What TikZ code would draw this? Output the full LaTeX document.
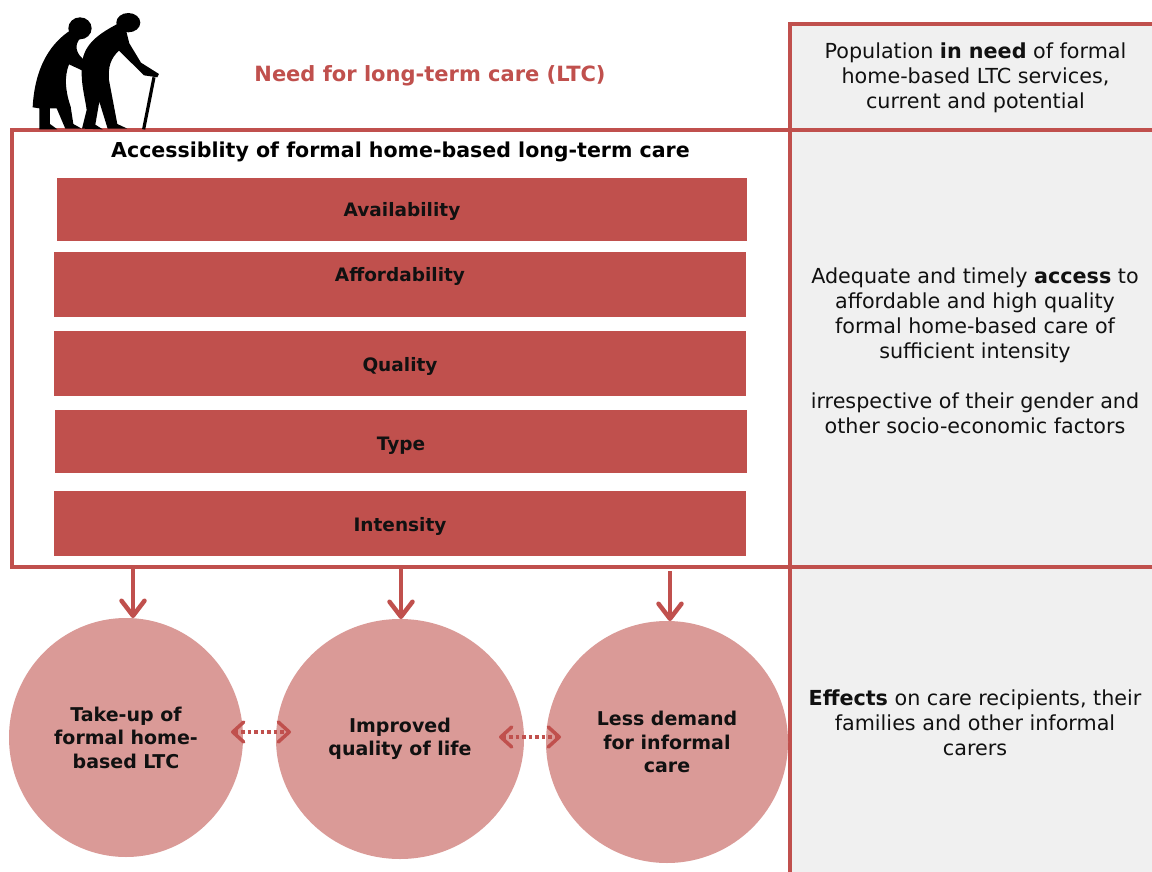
\documentclass[tikz,border=0pt]{standalone}
\usepackage{fontspec}
\setmainfont{DejaVu Sans}
\usetikzlibrary{arrows.meta,shapes.geometric}
\definecolor{lred}{HTML}{C0504D}
\definecolor{lpink}{HTML}{DA9A97}
\definecolor{lgray}{HTML}{F0F0F0}
\definecolor{ink}{HTML}{111111}
\tikzset{
 x=1pt,y=-1pt,
 rule/.style={draw=lred,line width=4pt},
 barbox/.style={fill=lred,draw=none,anchor=north west,inner sep=0pt,outer sep=0pt},
 bartext/.style={font=\fontsize{18.5}{22}\selectfont\bfseries,text=ink,inner sep=0pt},
 bubble/.style={fill=lpink,draw=none,ellipse,inner sep=0pt,outer sep=0pt,font=\fontsize{19}{23.5}\selectfont\bfseries,text=ink,align=center},
 sidetext/.style={font=\fontsize{20.7}{25}\selectfont,text=ink,align=center,inner sep=0pt},
 downarrow/.style={draw=lred,line width=4.5pt,-{Straight Barb[length=15pt,width=23pt,line width=4.5pt,round]}},
 linkarrow/.style={draw=lred,line width=3.5pt,dash pattern=on 3.5pt off 3pt,{Straight Barb[length=11pt,width=20pt,line width=3.5pt,round]}-{Straight Barb[length=11pt,width=20pt,line width=3.5pt,round]}},
}
\newcommand{\barnode}[6]{\node[barbox,minimum width=#3pt,minimum height=#4pt] (#5) at (#1,#2) {};\node[bartext] (#5t) at #6;}
\begin{document}
\begin{tikzpicture}
\useasboundingbox (0,0) rectangle (1152,872);
\fill[white] (0,0) rectangle (1152,872);
% grey side panel
\node[fill=lgray,draw=none,anchor=north west,minimum width=362pt,minimum height=848pt,inner sep=0pt,outer sep=0pt] (panel) at (790,24) {};
% frame
\node[draw=lred,line width=4pt,anchor=north west,minimum width=778pt,minimum height=437pt,inner sep=0pt,outer sep=0pt] (frame) at (12,130) {};
\draw[rule] (frame.north east) -- (panel.north east |- frame.north east);
\draw[rule] (frame.south east) -- (panel.east |- frame.south east);
\draw[rule,line cap=rect] (panel.north west) -- (panel.north east);
\draw[rule] (panel.north west) -- (panel.south west);
% silhouette
\begin{scope}[x=0.3333pt,y=-0.3333pt]
 \fill[black] (240,85) ellipse [x radius=35,y radius=33];
 \fill[black] (385,68) ellipse [x radius=36,y radius=29];
 \fill[black] (210,92) .. controls (160,125) and (105,190) .. (98,322) -- (118,325) -- (118,388) -- (172,388) -- (150,372) -- (150,325) -- (170,325) -- (196,386) -- (245,386) -- (220,372) -- (212,320) .. controls (195,270) and (193,230) .. (207,193) -- (248,212) -- (256,182) .. controls (230,165) and (218,135) .. (244,112) -- cycle;
 \fill[black] (352,72) .. controls (300,100) and (252,130) .. (246,190) .. controls (241,250) and (255,290) .. (260,330) -- (246,386) -- (308,388) -- (286,374) -- (298,305) -- (323,386) -- (382,386) -- (352,372) -- (327,240) .. controls (324,200) and (332,175) .. (357,152) -- (432,226) -- (472,232) -- (477,222) -- (423,188) -- (388,130) -- (378,90) -- cycle;
 \draw[black,line width=3.2pt] (462,232) -- (431,388);
\end{scope}
% title texts
\node[font=\fontsize{21}{25}\selectfont\bfseries,text=lred,inner sep=0pt] (need) at (430,76) {Need for long-term care (LTC)};
\node[font=\fontsize{20.55}{25}\selectfont\bfseries,text=black,inner sep=0pt] (acc) at (400.5,152) {Accessiblity of formal home-based long-term care};
% bars
\barnode{57}{178}{690}{63}{b1}{(402,211.5) {Availability}}
\barnode{54}{252}{692}{65}{b2}{(400,276.5) {Affordability}}
\barnode{54}{331}{692}{65}{b3}{(400,366.5) {Quality}}
\barnode{55}{410}{692}{63}{b4}{(401,445.5) {Type}}
\barnode{54}{491}{692}{65}{b5}{(400,526.5) {Intensity}}
% side text
\node[sidetext] (s1) at (975.5,78) {Population \textbf{in need} of formal\\home-based LTC services,\\current and potential};
\node[sidetext] (s2) at (975,350.5) {Adequate and timely \textbf{access} to\\affordable and high quality\\formal home-based care of\\sufficient intensity\\[25pt]irrespective of their gender and\\other socio-economic factors};
\node[sidetext] (s3) at (975,722.5) {\textbf{Effects} on care recipients, their\\families and other informal\\carers};
% circles
\node[bubble,minimum width=234pt,minimum height=239pt] (c1) at (126,737.5) {Take-up of\\formal home-\\based LTC};
\node[bubble,minimum width=248pt,minimum height=240pt] (c2) at (400,739) {Improved\\quality of life};
\node[bubble,minimum width=242pt,minimum height=242pt] (c3) at (667,742) {Less demand\\for informal\\care};
% down arrows
\coordinate (d1) at (133,567);
\coordinate (d2) at (401,567);
\coordinate (d3) at (670,571);
\draw[downarrow] (d1) -- (c1.north -| d1);
\draw[downarrow] (d2) -- (c2.north -| d2);
\draw[downarrow] (d3) -- (c3.north -| d3);
% dotted links
\coordinate (l1a) at (231,732);
\coordinate (l1b) at (291,732);
\coordinate (l2a) at (499,737);
\coordinate (l2b) at (561,737);
\draw[linkarrow] (l1a) -- (l1b);
\draw[linkarrow] (l2a) -- (l2b);
\end{tikzpicture}
\end{document}
